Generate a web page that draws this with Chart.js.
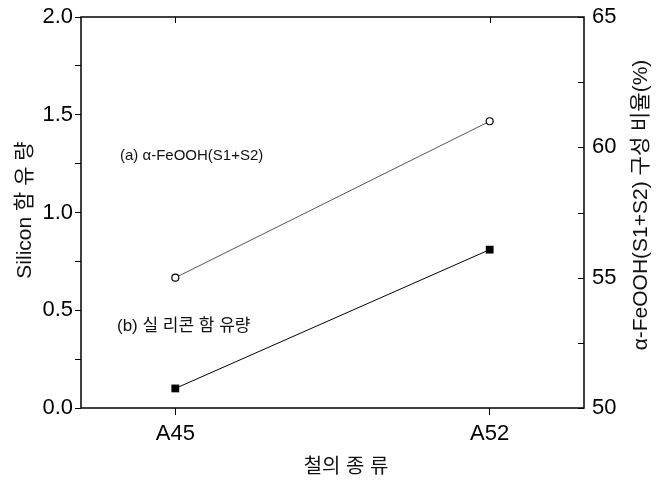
<!DOCTYPE html>
<html lang="ko">
<head>
<meta charset="UTF-8">
<title>철의 종류</title>
<script src="https://cdn.jsdelivr.net/npm/chart.js"></script>
<style>
  body { margin: 0; background: #fff; }
  #wrap { width: 660px; height: 486px; }
</style>
</head>
<body>
<div id="wrap"><canvas id="chart"></canvas></div>
<script>
const categories = ['A45', 'A52'];
const feoohRatio = [55.0, 61.0];      // right axis, (a)
const siliconContent = [0.10, 0.81];  // left axis, (b)
const leftTicks = [0, 0.5, 1.0, 1.5, 2.0];
const rightTicks = [50, 55, 60, 65];

const FONT = "'Liberation Sans', Arial, sans-serif";
const KFONT = "'Liberation Sans', 'Noto Sans CJK KR', sans-serif";

// frame, inward ticks on top/right, titles and notes
const decor = {
  id: 'decor',
  afterDraw(chart) {
    const { ctx, chartArea: a, scales } = chart;
    ctx.save();
    ctx.strokeStyle = '#000';
    ctx.lineWidth = 1.5;
    ctx.strokeRect(a.left, a.top, a.right - a.left, a.bottom - a.top);

    ctx.lineWidth = 1;
    ctx.beginPath();
    categories.forEach((c, i) => {
      const x = Math.round(scales.x.getPixelForValue(i)) + 0.5;
      ctx.moveTo(x, a.top);
      ctx.lineTo(x, a.top + 6);
    });
    scales.y2.ticks.forEach(t => {
      const y = Math.round(scales.y2.getPixelForValue(t.value)) + 0.5;
      ctx.moveTo(a.right, y);
      ctx.lineTo(a.right - 6, y);
    });
    ctx.stroke();

    ctx.fillStyle = '#111';
    ctx.textAlign = 'center';
    ctx.textBaseline = 'middle';

    ctx.font = '21px ' + KFONT;
    ctx.save();
    ctx.translate(25, 210);
    ctx.rotate(-Math.PI / 2);
    ctx.fillText('Silicon 함 유 량', 0, 0);
    ctx.restore();

    ctx.save();
    ctx.translate(641, 205);
    ctx.rotate(-Math.PI / 2);
    ctx.fillText('α-FeOOH(S1+S2) 구성 비율(%)', 0, 0);
    ctx.restore();

    ctx.font = '20px ' + KFONT;
    ctx.fillText('철의 종 류', 346, 467);

    ctx.textAlign = 'left';
    ctx.font = '15px ' + KFONT;
    ctx.fillText('(a) α-FeOOH(S1+S2)', 120, 156);
    ctx.font = '17px ' + KFONT;
    ctx.fillText('(b) 실 리콘 함 유량', 117, 326);
    ctx.restore();
  }
};

const noPad = s => { s.paddingTop = 0; s.paddingBottom = 0; s.paddingLeft = 0; s.paddingRight = 0; };

new Chart(document.getElementById('chart'), {
  type: 'line',
  data: {
    datasets: [
      {
        label: '(a) α-FeOOH(S1+S2)',
        data: feoohRatio.map((v, i) => ({ x: i, y: v })),
        yAxisID: 'y2',
        borderColor: '#555',
        borderWidth: 1,
        pointStyle: 'circle',
        pointRadius: 3.5,
        pointBorderWidth: 1.2,
        pointBorderColor: '#000',
        pointBackgroundColor: '#fff'
      },
      {
        label: '(b) 실 리콘 함 유량',
        data: siliconContent.map((v, i) => ({ x: i, y: v })),
        yAxisID: 'y',
        borderColor: '#000',
        borderWidth: 1,
        pointStyle: 'rect',
        pointRadius: 5.5,
        pointBorderWidth: 0,
        pointBackgroundColor: '#000'
      }
    ]
  },
  options: {
    responsive: true,
    maintainAspectRatio: false,
    animation: false,
    layout: { padding: 0 },
    plugins: { legend: { display: false }, tooltip: { enabled: false } },
    scales: {
      x: {
        type: 'linear',
        position: 'bottom',
        min: -0.3,
        max: 1.3,
        afterBuildTicks: s => { s.ticks = categories.map((c, i) => ({ value: i })); },
        afterFit: s => { s.height = 78; noPad(s); },
        ticks: {
          callback: v => categories[v],
          color: '#000',
          font: { family: FONT, size: 22 },
          padding: 6,
          maxRotation: 0
        },
        grid: { drawOnChartArea: false, tickLength: 7, color: '#000' },
        border: { display: false }
      },
      xTop: {
        type: 'linear',
        position: 'top',
        display: true,
        min: -0.3,
        max: 1.3,
        afterFit: s => { s.height = 17; noPad(s); },
        ticks: { display: false },
        grid: { display: false },
        border: { display: false }
      },
      y: {
        position: 'left',
        min: 0,
        max: 2,
        afterBuildTicks: s => {
          s.ticks = [];
          for (let i = 0; i <= 8; i++) s.ticks.push({ value: i * 0.25 });
        },
        afterFit: s => { s.width = 81; noPad(s); },
        ticks: {
          callback: v => leftTicks.includes(v) ? v.toFixed(1) : '',
          color: '#000',
          font: { family: FONT, size: 22 },
          padding: 2
        },
        grid: { drawOnChartArea: false, tickLength: 6, color: '#000' },
        border: { display: false }
      },
      y2: {
        position: 'right',
        min: 50,
        max: 65,
        afterBuildTicks: s => {
          s.ticks = [];
          for (let i = 0; i <= 6; i++) s.ticks.push({ value: 50 + i * 2.5 });
        },
        afterFit: s => { s.width = 76; noPad(s); },
        ticks: {
          callback: v => rightTicks.includes(v) ? String(v) : '',
          color: '#000',
          font: { family: FONT, size: 22 },
          padding: 8
        },
        grid: { drawOnChartArea: false, drawTicks: false },
        border: { display: false }
      }
    }
  },
  plugins: [decor]
});
</script>
</body>
</html>
